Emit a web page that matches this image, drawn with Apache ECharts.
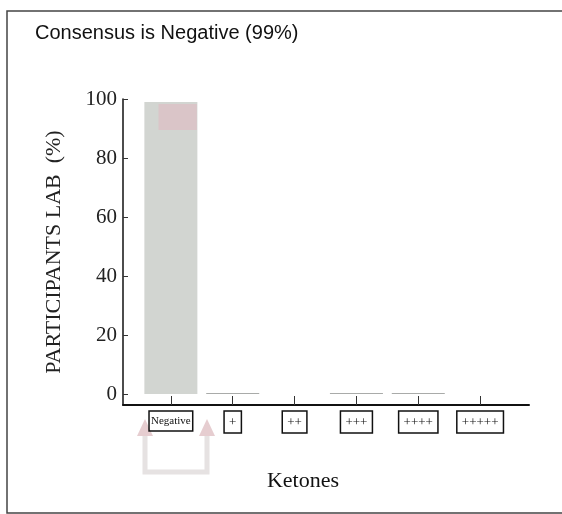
<!DOCTYPE html>
<html><head><meta charset="utf-8">
<script src="https://cdn.jsdelivr.net/npm/echarts@6/dist/echarts.min.js"></script>
<style>html,body{margin:0;padding:0;background:#fff}#c{width:562px;height:514px}</style>
</head><body><div id="c"></div>
<script>
const categories = ['Negative', '+', '++', '+++', '++++', '+++++'];
const values = [99, 0.4, 0, 0.4, 0.4, 0];
const yTicks = [0, 20, 40, 60, 80, 100];
const bandRange = [89.5, 98.3];

const chart = echarts.init(document.getElementById('c'), null, {renderer: 'canvas'});
const serif = '"Liberation Serif", "DejaVu Serif", serif';
const catPos = categories.map((c, i) => i);

chart.setOption({
  animation: false,
  backgroundColor: '#fff',
  title: {
    text: 'Consensus is Negative (99%)',
    left: 30, top: 18,
    textStyle: {fontFamily: '"Liberation Sans", Arial, sans-serif', fontSize: 20, fontWeight: 'normal', color: '#111'}
  },
  grid: {left: 123, right: 33, top: 99, bottom: 109, containLabel: false},
  xAxis: {
    type: 'value', min: -0.774, max: 5.79,
    splitLine: {show: false},
    axisLine: {show: true, onZero: false, lineStyle: {color: '#111', width: 2}},
    axisTick: {show: true, inside: true, length: 9, customValues: catPos, lineStyle: {color: '#333', width: 1}},
    axisLabel: {
      show: true, customValues: catPos, margin: 6,
      formatter: v => {
        const s = categories[Math.round(v)];
        return s === 'Negative' ? '{n|' + s + '}' : '{p|' + s + '}';
      },
      rich: {
        n: {fontFamily: serif, fontSize: 11, color: '#111', borderColor: '#111', borderWidth: 1.5, padding: [5, 2, 4, 2]},
        p: {fontFamily: serif, fontSize: 13, color: '#111', borderColor: '#111', borderWidth: 1.5, padding: [5, 5, 4, 5]}
      }
    }
  },
  yAxis: {
    type: 'value', min: -3.7, max: 100,
    name: 'PARTICIPANTS LAB  (%)', nameLocation: 'middle', nameGap: 58,
    nameTextStyle: {fontFamily: serif, fontSize: 22, color: '#222'},
    splitLine: {show: false},
    axisLine: {show: true, onZero: false, lineStyle: {color: '#111', width: 1.5}},
    axisTick: {show: true, inside: true, length: 5, customValues: yTicks, lineStyle: {color: '#333'}},
    axisLabel: {customValues: yTicks, margin: 6, fontFamily: serif, fontSize: 21, color: '#222'}
  },
  series: [
    {
      type: 'bar', barWidth: 53,
      data: values.map((v, i) => [i, v]),
      itemStyle: {color: p => (p.value[1] < 1 ? '#a9aba9' : '#d2d5d1')},
      z: 2
    },
    {
      type: 'custom',
      renderItem: (params, api) => {
        const a = api.coord([api.value(0) - 0.2, api.value(2)]);
        const b = api.coord([api.value(0) + 0.42, api.value(1)]);
        return {type: 'rect', shape: {x: a[0], y: a[1], width: b[0] - a[0], height: b[1] - a[1]}, style: {fill: '#dac5c8'}};
      },
      data: [[0, bandRange[0], bandRange[1]]],
      z: 3
    }
  ],
  graphic: [
    {type: 'rect', shape: {x: 7, y: 11, width: 600, height: 502}, style: {fill: 'none', stroke: '#444', lineWidth: 1.5}, silent: true},
    {type: 'text', x: 303, y: 481, style: {text: 'Ketones', font: '22px ' + serif, fill: '#111', textAlign: 'center', textVerticalAlign: 'middle'}},
    {type: 'polyline', shape: {points: [[145, 426], [145, 472], [207, 472], [207, 426]]}, style: {stroke: '#e6e2e2', lineWidth: 5, fill: 'none'}},
    {type: 'polygon', shape: {points: [[137, 436], [145, 419], [153, 436]]}, style: {fill: '#e6cdd0'}},
    {type: 'polygon', shape: {points: [[199, 436], [207, 419], [215, 436]]}, style: {fill: '#e6cdd0'}}
  ]
});
</script></body></html>
